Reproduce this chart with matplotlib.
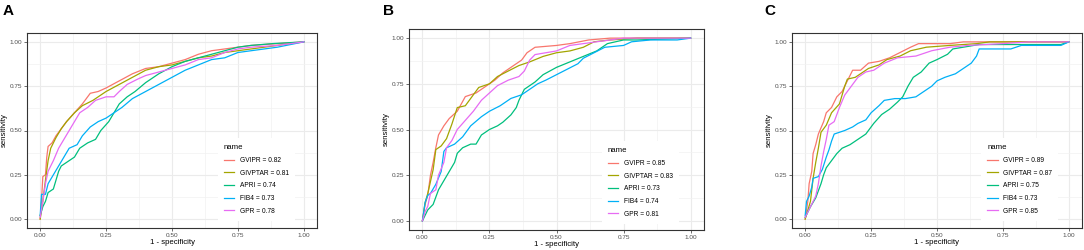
import matplotlib
matplotlib.use("Agg")
import matplotlib.pyplot as plt
from matplotlib.ticker import MultipleLocator, FormatStrFormatter

plt.rcParams['font.family'] = ['Liberation Sans', 'DejaVu Sans']

names = ["GVIPR", "GIVPTAR", "APRI", "FIB4", "GPR"]
colors = ["#F8766D", "#A3A500", "#00BF7D", "#00B0F6", "#E76BF3"]

# ---- Panel A ----
auc_A = [0.82, 0.81, 0.74, 0.73, 0.78]
A_GVIPR_x = [0, 0.005, 0.01, 0.02, 0.025, 0.03, 0.045, 0.06, 0.08, 0.1, 0.13, 0.16, 0.19, 0.22, 0.25, 0.3, 0.35, 0.4, 0.45, 0.5, 0.55, 0.6, 0.65, 0.7, 0.75, 0.8, 0.9, 1]
A_GVIPR_y = [0, 0.1, 0.24, 0.25, 0.35, 0.41, 0.43, 0.47, 0.51, 0.55, 0.6, 0.65, 0.71, 0.72, 0.74, 0.78, 0.82, 0.85, 0.86, 0.88, 0.9, 0.93, 0.95, 0.96, 0.97, 0.98, 0.99, 1]
A_GIVPTAR_x = [0, 0.01, 0.02, 0.03, 0.04, 0.06, 0.08, 0.1, 0.13, 0.16, 0.2, 0.25, 0.3, 0.35, 0.4, 0.45, 0.5, 0.55, 0.6, 0.65, 0.7, 0.75, 0.8, 0.9, 1]
A_GIVPTAR_y = [0, 0.1, 0.22, 0.33, 0.4, 0.46, 0.51, 0.55, 0.6, 0.64, 0.67, 0.72, 0.76, 0.8, 0.84, 0.86, 0.87, 0.89, 0.91, 0.92, 0.94, 0.95, 0.96, 0.98, 1]
A_APRI_x = [0, 0.01, 0.02, 0.03, 0.05, 0.06, 0.07, 0.08, 0.1, 0.13, 0.15, 0.18, 0.21, 0.23, 0.26, 0.28, 0.3, 0.33, 0.36, 0.4, 0.45, 0.5, 0.55, 0.6, 0.65, 0.7, 0.75, 0.8, 0.88, 1]
A_APRI_y = [0.02, 0.07, 0.1, 0.15, 0.17, 0.22, 0.27, 0.3, 0.32, 0.35, 0.4, 0.43, 0.45, 0.5, 0.55, 0.6, 0.65, 0.69, 0.72, 0.77, 0.82, 0.86, 0.89, 0.91, 0.93, 0.95, 0.97, 0.98, 0.99, 1]
A_FIB4_x = [0, 0.005, 0.02, 0.03, 0.05, 0.07, 0.09, 0.11, 0.14, 0.16, 0.19, 0.22, 0.25, 0.28, 0.31, 0.35, 0.4, 0.45, 0.5, 0.55, 0.6, 0.65, 0.7, 0.75, 0.8, 0.9, 1]
A_FIB4_y = [0.02, 0.14, 0.14, 0.2, 0.25, 0.3, 0.35, 0.4, 0.42, 0.47, 0.52, 0.55, 0.57, 0.6, 0.63, 0.68, 0.72, 0.76, 0.8, 0.84, 0.87, 0.9, 0.91, 0.94, 0.95, 0.97, 1]
A_GPR_x = [0, 0.01, 0.02, 0.03, 0.05, 0.07, 0.09, 0.11, 0.13, 0.15, 0.18, 0.21, 0.25, 0.28, 0.3, 0.33, 0.37, 0.4, 0.45, 0.5, 0.55, 0.6, 0.65, 0.7, 0.75, 0.8, 0.9, 1]
A_GPR_y = [0.01, 0.1, 0.2, 0.27, 0.33, 0.4, 0.45, 0.5, 0.55, 0.6, 0.63, 0.67, 0.69, 0.69, 0.72, 0.76, 0.79, 0.81, 0.83, 0.85, 0.87, 0.9, 0.91, 0.94, 0.96, 0.97, 0.98, 1]

# ---- Panel B ----
auc_B = [0.85, 0.83, 0.73, 0.74, 0.81]
B_GVIPR_x = [0, 0.01, 0.02, 0.03, 0.04, 0.05, 0.06, 0.08, 0.1, 0.13, 0.16, 0.2, 0.24, 0.27, 0.3, 0.34, 0.37, 0.39, 0.42, 0.5, 0.55, 0.62, 0.7, 1]
B_GVIPR_y = [0, 0.09, 0.14, 0.25, 0.32, 0.4, 0.47, 0.52, 0.56, 0.6, 0.68, 0.7, 0.74, 0.77, 0.81, 0.85, 0.88, 0.92, 0.95, 0.96, 0.97, 0.99, 1.0, 1]
B_GIVPTAR_x = [0, 0.01, 0.02, 0.04, 0.05, 0.07, 0.09, 0.11, 0.13, 0.16, 0.19, 0.21, 0.25, 0.28, 0.32, 0.36, 0.4, 0.45, 0.5, 0.55, 0.6, 0.64, 0.7, 0.8, 1]
B_GIVPTAR_y = [0, 0.1, 0.15, 0.28, 0.39, 0.41, 0.45, 0.53, 0.62, 0.63, 0.69, 0.73, 0.75, 0.79, 0.82, 0.85, 0.87, 0.9, 0.92, 0.93, 0.95, 0.98, 0.99, 1.0, 1]
B_APRI_x = [0, 0.01, 0.02, 0.04, 0.05, 0.06, 0.08, 0.1, 0.12, 0.13, 0.15, 0.18, 0.2, 0.22, 0.25, 0.28, 0.3, 0.33, 0.35, 0.36, 0.38, 0.42, 0.45, 0.5, 0.55, 0.6, 0.65, 0.69, 0.75, 0.8, 1]
B_APRI_y = [0, 0.03, 0.06, 0.09, 0.13, 0.17, 0.22, 0.27, 0.32, 0.37, 0.4, 0.42, 0.42, 0.47, 0.5, 0.52, 0.54, 0.58, 0.62, 0.66, 0.72, 0.76, 0.8, 0.84, 0.87, 0.9, 0.93, 0.97, 0.99, 0.99, 1]
B_FIB4_x = [0, 0.01, 0.02, 0.03, 0.05, 0.07, 0.08, 0.09, 0.12, 0.15, 0.18, 0.22, 0.25, 0.29, 0.33, 0.37, 0.4, 0.43, 0.46, 0.5, 0.54, 0.58, 0.6, 0.64, 0.68, 0.75, 0.78, 0.85, 0.95, 1]
B_FIB4_y = [0, 0.1, 0.14, 0.15, 0.2, 0.27, 0.38, 0.4, 0.42, 0.46, 0.52, 0.57, 0.6, 0.63, 0.67, 0.69, 0.72, 0.75, 0.77, 0.8, 0.83, 0.86, 0.89, 0.92, 0.95, 0.96, 0.98, 0.99, 0.99, 1]
B_GPR_x = [0, 0.01, 0.02, 0.03, 0.05, 0.06, 0.08, 0.09, 0.11, 0.13, 0.16, 0.19, 0.22, 0.25, 0.28, 0.32, 0.36, 0.38, 0.4, 0.42, 0.46, 0.5, 0.55, 0.6, 0.65, 0.7, 0.75, 1]
B_GPR_y = [0, 0.05, 0.08, 0.15, 0.17, 0.25, 0.32, 0.4, 0.44, 0.5, 0.55, 0.6, 0.66, 0.7, 0.74, 0.77, 0.79, 0.82, 0.88, 0.91, 0.92, 0.93, 0.96, 0.97, 0.98, 0.99, 1.0, 1]

# ---- Panel C ----
auc_C = [0.89, 0.87, 0.75, 0.73, 0.85]
C_GVIPR_x = [0, 0.01, 0.015, 0.025, 0.03, 0.04, 0.05, 0.07, 0.08, 0.1, 0.12, 0.14, 0.16, 0.18, 0.21, 0.24, 0.28, 0.32, 0.36, 0.4, 0.43, 0.55, 0.6, 1]
C_GVIPR_y = [0, 0.1, 0.2, 0.27, 0.37, 0.42, 0.48, 0.55, 0.6, 0.63, 0.69, 0.72, 0.78, 0.84, 0.84, 0.88, 0.89, 0.91, 0.94, 0.97, 0.99, 0.99, 1.0, 1]
C_GIVPTAR_x = [0, 0.02, 0.03, 0.04, 0.05, 0.06, 0.08, 0.1, 0.13, 0.15, 0.16, 0.19, 0.21, 0.24, 0.28, 0.31, 0.36, 0.4, 0.46, 0.55, 0.65, 0.7, 1]
C_GIVPTAR_y = [0, 0.1, 0.23, 0.32, 0.4, 0.49, 0.53, 0.6, 0.65, 0.75, 0.79, 0.8, 0.82, 0.85, 0.87, 0.9, 0.92, 0.95, 0.97, 0.98, 0.99, 1.0, 1]
C_APRI_x = [0, 0.02, 0.04, 0.06, 0.07, 0.08, 0.1, 0.12, 0.14, 0.17, 0.2, 0.23, 0.26, 0.29, 0.32, 0.35, 0.37, 0.39, 0.41, 0.44, 0.47, 0.5, 0.54, 0.56, 0.6, 0.66, 0.75, 0.85, 0.97, 1]
C_APRI_y = [0.01, 0.07, 0.12, 0.2, 0.25, 0.29, 0.33, 0.37, 0.4, 0.42, 0.45, 0.48, 0.54, 0.59, 0.62, 0.66, 0.69, 0.75, 0.8, 0.83, 0.88, 0.9, 0.93, 0.96, 0.97, 0.985, 0.985, 0.985, 0.985, 1]
C_FIB4_x = [0, 0.005, 0.015, 0.025, 0.03, 0.05, 0.065, 0.08, 0.09, 0.1, 0.11, 0.13, 0.15, 0.18, 0.2, 0.23, 0.25, 0.28, 0.3, 0.34, 0.38, 0.42, 0.45, 0.48, 0.5, 0.53, 0.57, 0.6, 0.63, 0.65, 0.66, 0.78, 0.82, 0.97, 1]
C_FIB4_y = [0.02, 0.1, 0.13, 0.18, 0.23, 0.24, 0.28, 0.35, 0.39, 0.44, 0.48, 0.49, 0.5, 0.52, 0.54, 0.56, 0.6, 0.64, 0.67, 0.68, 0.68, 0.69, 0.72, 0.75, 0.78, 0.8, 0.82, 0.85, 0.88, 0.92, 0.96, 0.96, 0.98, 0.98, 1]
C_GPR_x = [0, 0.02, 0.03, 0.04, 0.05, 0.06, 0.07, 0.08, 0.09, 0.11, 0.13, 0.15, 0.17, 0.2, 0.23, 0.26, 0.3, 0.35, 0.42, 0.48, 0.55, 0.62, 0.75, 0.85, 1]
C_GPR_y = [0.01, 0.07, 0.1, 0.13, 0.2, 0.3, 0.38, 0.45, 0.53, 0.55, 0.63, 0.7, 0.74, 0.8, 0.83, 0.84, 0.88, 0.91, 0.92, 0.95, 0.97, 0.98, 0.99, 1.0, 1]

panels = [
    ("A", auc_A, [(A_GVIPR_x, A_GVIPR_y), (A_GIVPTAR_x, A_GIVPTAR_y), (A_APRI_x, A_APRI_y), (A_FIB4_x, A_FIB4_y), (A_GPR_x, A_GPR_y)]),
    ("B", auc_B, [(B_GVIPR_x, B_GVIPR_y), (B_GIVPTAR_x, B_GIVPTAR_y), (B_APRI_x, B_APRI_y), (B_FIB4_x, B_FIB4_y), (B_GPR_x, B_GPR_y)]),
    ("C", auc_C, [(C_GVIPR_x, C_GVIPR_y), (C_GIVPTAR_x, C_GIVPTAR_y), (C_APRI_x, C_APRI_y), (C_FIB4_x, C_FIB4_y), (C_GPR_x, C_GPR_y)]),
]

W, H = 1084, 250
fig = plt.figure(figsize=(W / 100, H / 100), dpi=100)
fig.patch.set_facecolor("white")

# axes rectangles in pixels: left, top, right, bottom
rects = [(27, 33, 317, 228), (409, 29, 704, 230), (792, 33, 1082, 228)]
letter_pos = [(3, 15), (383, 15), (764, 15)]
leg_anchor = [(0.935, 0.02), (0.925, 0.015), (0.93, 0.02)]

for (letter, aucs, curves), (l, t, r, b), (lx, ly), anc in zip(panels, rects, letter_pos, leg_anchor):
    ax = fig.add_axes([l / W, (H - b) / H, (r - l) / W, (b - t) / H])
    ax.set_xlim(-0.05, 1.05)
    ax.set_ylim(-0.05, 1.05)
    ax.xaxis.set_major_locator(MultipleLocator(0.25))
    ax.yaxis.set_major_locator(MultipleLocator(0.25))
    ax.xaxis.set_minor_locator(MultipleLocator(0.125))
    ax.yaxis.set_minor_locator(MultipleLocator(0.125))
    ax.grid(which="major", color="#EBEBEB", linewidth=0.8)
    ax.grid(which="minor", color="#F2F2F2", linewidth=0.5)
    ax.set_axisbelow(True)
    ax.tick_params(which="major", length=2, width=0.5, color="#333333", labelsize=4.6,
                   labelcolor="#4D4D4D", pad=1.5)
    ax.tick_params(which="minor", length=0)
    ax.xaxis.set_major_formatter(FormatStrFormatter("%.2f"))
    ax.yaxis.set_major_formatter(FormatStrFormatter("%.2f"))
    for s in ax.spines.values():
        s.set_color("#333333")
        s.set_linewidth(0.8)
    for (xs, ys), nm, c, a in zip(curves, names, colors, aucs):
        ax.plot(xs, ys, color=c, linewidth=0.9, label=f"{nm} = {a:.2f}")
    ax.set_xlabel("1 - specificity", fontsize=5.6, labelpad=1)
    ax.set_ylabel("sensitivity", fontsize=5.6, labelpad=1)
    ax.legend(title="name", loc="lower right", bbox_to_anchor=anc, fontsize=4.8,
              title_fontsize=5.6, frameon=True, facecolor="white", edgecolor="none",
              framealpha=1, fancybox=False, handlelength=1.6, labelspacing=0.85,
              borderpad=0.9, alignment="left")
    fig.text(lx / W, 1 - ly / H, letter, fontsize=11, fontweight="bold", ha="left", va="baseline")

fig.savefig("out.png", dpi=100, facecolor="white")
